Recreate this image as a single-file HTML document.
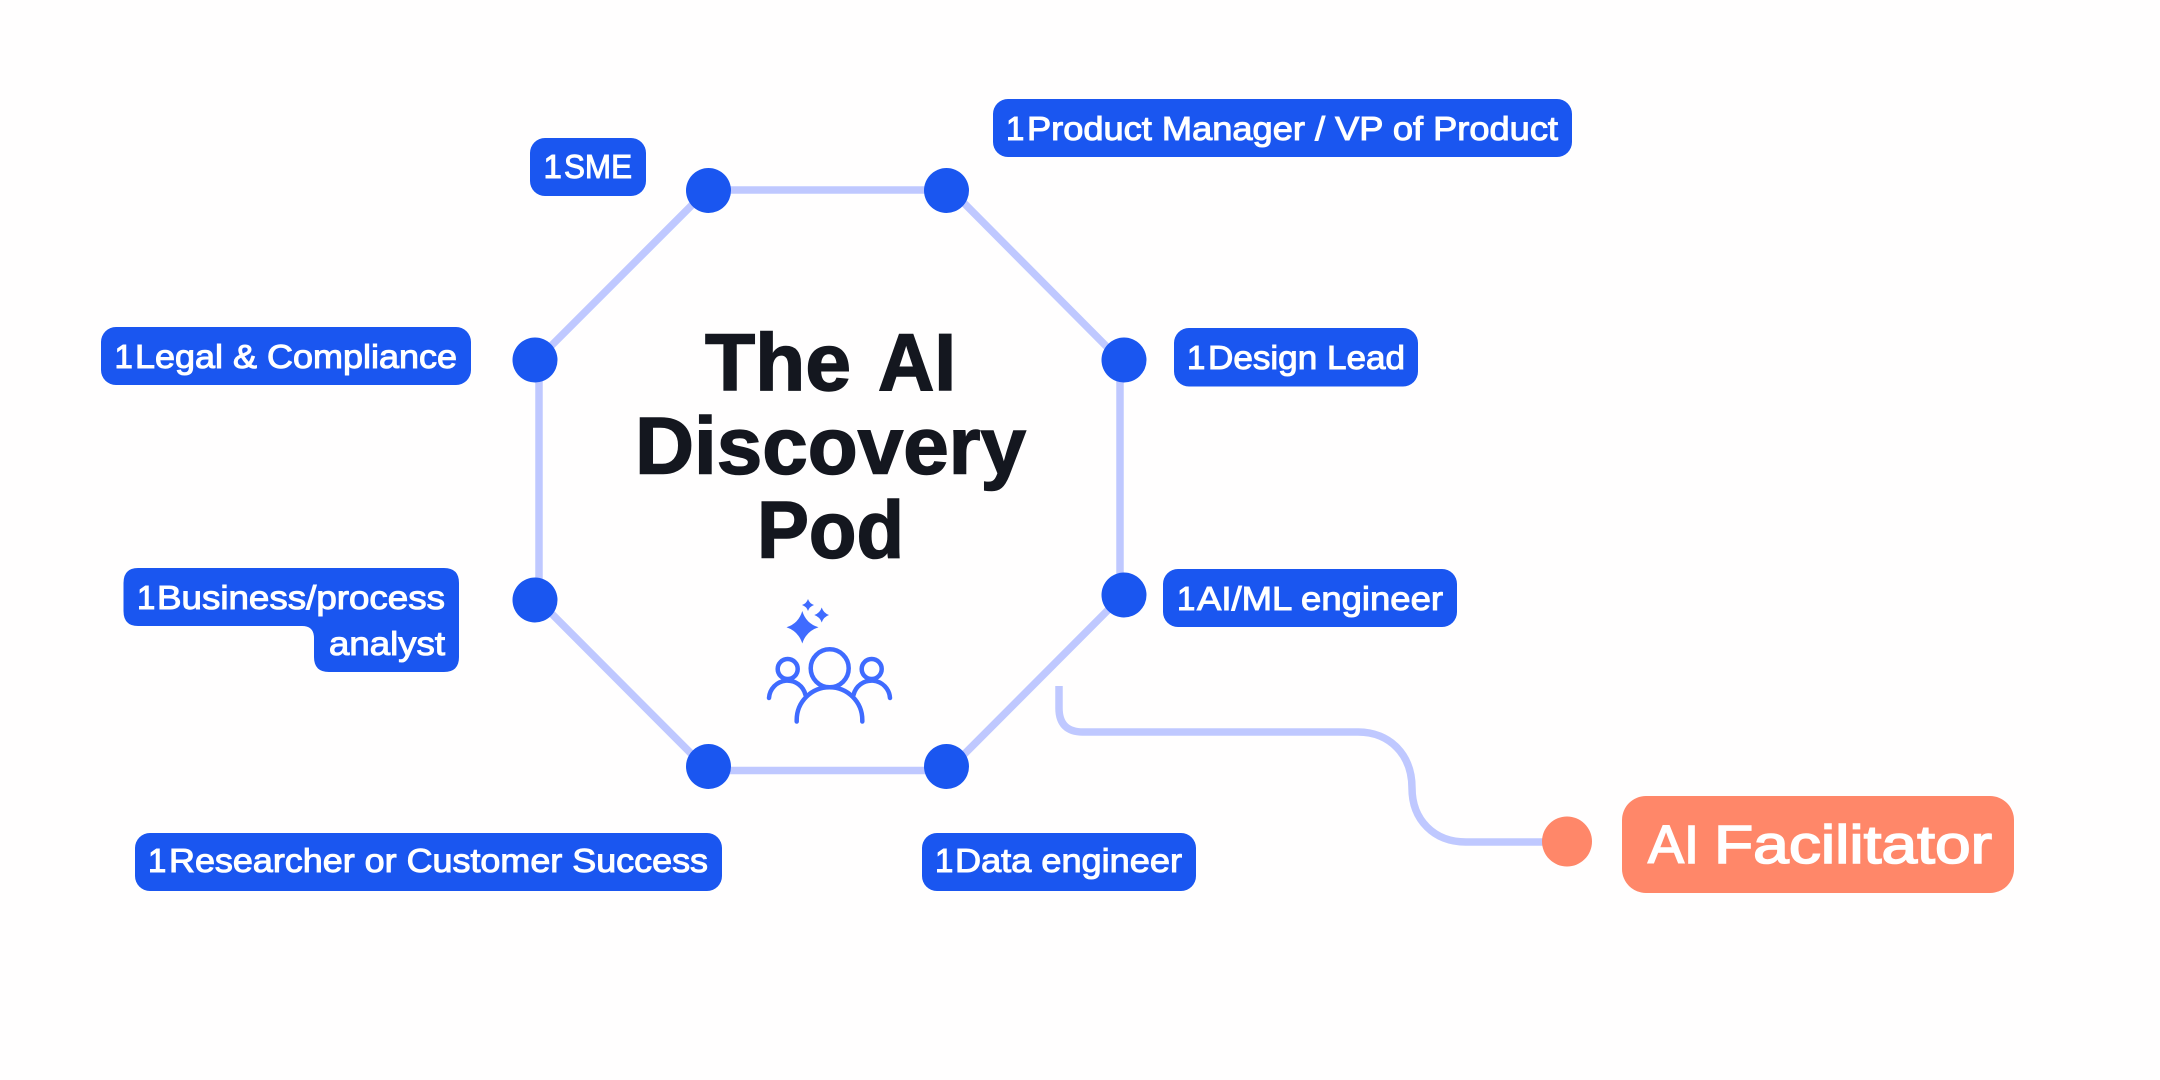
<!DOCTYPE html>
<html lang="en">
<head>
<meta charset="utf-8">
<title>The AI Discovery Pod</title>
<style>
html,body{margin:0;padding:0;background:#fffefe;width:2160px;height:1080px;overflow:hidden}
svg{display:block}
.t{font-family:"Liberation Sans",sans-serif;font-size:33px;fill:#fff;stroke:#fff;stroke-width:1px}
.h{font-family:"Liberation Sans",sans-serif;font-size:81px;font-weight:700;fill:#14171f;stroke:#14171f;stroke-width:1.5px}
.f{font-family:"Liberation Sans",sans-serif;font-size:54px;fill:#fff;stroke:#fff;stroke-width:1.6px}
</style>
</head>
<body>
<svg width="2160" height="1080" viewBox="0 0 2160 1080" xmlns="http://www.w3.org/2000/svg">
<rect width="2160" height="1080" fill="#fffefe"/>
<g fill="none" stroke="#bfc8ff" stroke-width="7.500">
<path d="M707 190H951L1120 360V598L948 770.500H708L539 601V358Z"/>
<path d="M1059 686V708Q1059 732 1083 732H1358C1390 732 1412 755 1412 788C1412 820 1434 842 1466 842H1545"/>
</g>
<g fill="#1a56f0">
<circle cx="708.500" cy="190.500" r="22.500"/>
<circle cx="946.500" cy="190.500" r="22.500"/>
<circle cx="535" cy="360" r="22.500"/>
<circle cx="1124" cy="360" r="22.500"/>
<circle cx="535" cy="600" r="22.500"/>
<circle cx="1124" cy="595" r="22.500"/>
<circle cx="708.500" cy="766.500" r="22.500"/>
<circle cx="946.500" cy="766.500" r="22.500"/>
<rect x="530" y="138" width="116" height="58" rx="15"/>
<rect x="993" y="99" width="579" height="58" rx="15"/>
<rect x="101" y="327" width="370" height="58" rx="15"/>
<rect x="1174" y="328" width="244" height="58.500" rx="15"/>
<rect x="1163" y="569" width="294" height="58" rx="15"/>
<rect x="135" y="833" width="587" height="58" rx="15"/>
<rect x="922" y="833" width="274" height="58" rx="15"/>
<path d="M138 568H444Q459 568 459 583V657Q459 672 444 672H329Q314 672 314 657V638Q314 626 302 626H138Q123.500 626 123.500 611V583Q123.500 568 138 568Z"/>
</g>
<text class="t" x="543.500" y="178">1</text>
<text class="t" x="564" y="178" textLength="68" lengthAdjust="spacingAndGlyphs">SME</text>
<text class="t" x="1006" y="140">1</text>
<text class="t" x="1027" y="140" textLength="531" lengthAdjust="spacingAndGlyphs">Product Manager / VP of Product</text>
<text class="t" x="114.500" y="368">1</text>
<text class="t" x="135" y="368" textLength="322" lengthAdjust="spacingAndGlyphs">Legal &amp; Compliance</text>
<text class="t" x="1187" y="369">1</text>
<text class="t" x="1208" y="369" textLength="197" lengthAdjust="spacingAndGlyphs">Design Lead</text>
<text class="t" x="1177" y="610">1</text>
<text class="t" x="1197" y="610" textLength="246" lengthAdjust="spacingAndGlyphs">AI/ML engineer</text>
<text class="t" x="137" y="609">1</text>
<text class="t" x="157" y="609" textLength="288" lengthAdjust="spacingAndGlyphs">Business/process</text>
<text class="t" x="329" y="655" textLength="116" lengthAdjust="spacingAndGlyphs">analyst</text>
<text class="t" x="148" y="872">1</text>
<text class="t" x="169" y="872" textLength="539" lengthAdjust="spacingAndGlyphs">Researcher or Customer Success</text>
<text class="t" x="935" y="872">1</text>
<text class="t" x="955" y="872" textLength="227" lengthAdjust="spacingAndGlyphs">Data engineer</text>
<circle cx="1567" cy="841.500" r="25" fill="#ff8769"/>
<rect x="1622" y="796" width="392" height="97" rx="24" fill="#ff8769"/>
<text class="f" x="1648" y="863" textLength="51" lengthAdjust="spacingAndGlyphs">AI</text>
<text class="f" x="1714" y="863" textLength="278" lengthAdjust="spacingAndGlyphs">Facilitator</text>
<text class="h" x="705" y="390" textLength="146" lengthAdjust="spacingAndGlyphs">The</text>
<text class="h" x="878" y="390" textLength="78" lengthAdjust="spacingAndGlyphs">AI</text>
<text class="h" x="635" y="473.500" textLength="391" lengthAdjust="spacingAndGlyphs">Discovery</text>
<text class="h" x="757" y="557.500" textLength="147" lengthAdjust="spacingAndGlyphs">Pod</text>
<g fill="#3f6bff">
<path d="M802.300 611Q806 623.500 818.500 627.300Q806 631.500 802.300 643.500Q798.500 631.500 786.500 627.300Q798.500 623.500 802.300 611Z"/>
<path d="M808 599Q809.500 603.500 814 605Q809.500 606.500 808 611Q806.500 606.500 802 605Q806.500 603.500 808 599Z"/>
<path d="M821.700 607.500Q823.500 613 829 615Q823.500 617 821.700 622.500Q820 617 814.300 615Q820 613 821.700 607.500Z"/>
</g>
<g fill="none" stroke="#3f6bff" stroke-width="4.500" stroke-linecap="round">
<circle cx="829.700" cy="668.300" r="19"/>
<circle cx="787.700" cy="669" r="10"/>
<circle cx="871.700" cy="669" r="10"/>
<path d="M796.700 721.500V720A32.700 32.700 0 0 1 862.300 720V721.500"/>
<path d="M769 698A18.500 18.500 0 0 1 805.500 695"/>
<path d="M853.500 695A18.500 18.500 0 0 1 890 698"/>
</g>
</svg>
</body>
</html>
